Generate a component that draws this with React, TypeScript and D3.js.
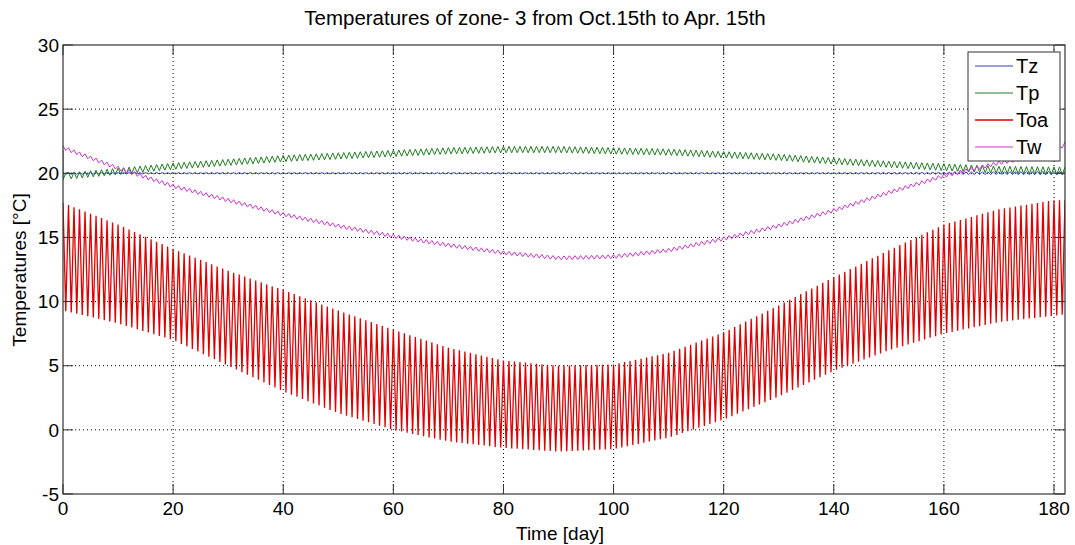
import React from "react";
import * as d3 from "d3";

// envelope readings (daily max / daily min) taken every 10 days off the plot
const sampleDays = [0, 10, 20, 30, 40, 50, 60, 70, 80, 90, 100, 110, 120, 130, 140, 150, 160, 170, 180, 182];

const tzHigh = [20.05, 20.05, 20.05, 20.05, 20.05, 20.05, 20.05, 20.05, 20.05, 20.05, 20.05, 20.05, 20.05, 20.05, 20.05, 20.06, 20.08, 20.12, 20.15, 20.15];
const tzLow = [19.92, 19.95, 19.95, 19.95, 19.95, 19.95, 19.95, 19.95, 19.95, 19.95, 19.95, 19.95, 19.95, 19.95, 19.95, 19.94, 19.92, 19.9, 19.88, 19.88];

const tpHigh = [20.0, 20.4, 20.8, 21.1, 21.4, 21.6, 21.8, 22.0, 22.1, 22.1, 22.0, 21.9, 21.7, 21.5, 21.2, 20.95, 20.75, 20.55, 20.5, 20.5];
const tpLow = [19.5, 19.9, 20.3, 20.6, 20.9, 21.1, 21.3, 21.5, 21.6, 21.6, 21.5, 21.4, 21.2, 21.0, 20.7, 20.45, 20.2, 20.0, 19.9, 19.9];
const tpStart = 21.8;

const toaHigh = [17.7, 16.0, 14.1, 12.4, 10.9, 9.3, 7.8, 6.4, 5.4, 5.0, 5.1, 6.0, 7.6, 9.7, 11.9, 14.0, 16.0, 17.2, 17.9, 17.9];
const toaLow = [9.3, 8.3, 7.0, 5.0, 3.0, 1.3, 0.0, -0.9, -1.4, -1.7, -1.5, -0.6, 0.8, 2.6, 4.6, 6.2, 7.5, 8.4, 8.9, 9.0];

const twHigh = [22.15, 20.55, 19.15, 18.05, 16.95, 16.05, 15.25, 14.55, 13.95, 13.55, 13.65, 14.15, 15.05, 16.05, 17.25, 18.65, 19.95, 20.95, 21.75, 22.45];
const twLow = [21.85, 20.25, 18.85, 17.75, 16.65, 15.75, 14.95, 14.25, 13.65, 13.25, 13.35, 13.85, 14.75, 15.75, 16.95, 18.35, 19.65, 20.65, 21.45, 22.15];

const xTicks = [0, 20, 40, 60, 80, 100, 120, 140, 160, 180];
const yTicks = [-5, 0, 5, 10, 15, 20, 25, 30];

const seriesNames = ["Tz", "Tp", "Toa", "Tw"];
const seriesColors = ["#3a3acc", "#1f7f1f", "#e00000", "#cc33cc"];

const W = 1075, H = 545;
const m = { left: 63, top: 45, right: 1065, bottom: 494 };
const font = "Arial, 'Liberation Sans', sans-serif";

const x = d3.scaleLinear().domain([0, 182]).range([m.left, m.right]);
const y = d3.scaleLinear().domain([-5, 30]).range([m.bottom, m.top]);

// daily zigzag between the read daily max and min
const zigzag = (hi: number[], lo: number[], first?: number) => {
  const hiS = d3.scaleLinear().domain(sampleDays).range(hi);
  const loS = d3.scaleLinear().domain(sampleDays).range(lo);
  const pts: [number, number][] = [];
  if (first !== undefined) pts.push([0, first]);
  for (let d = 0; d < 182; d++) {
    pts.push([d, first !== undefined && d === 0 ? loS(0) : hiS(d)]);
    pts.push([d + 0.5, first !== undefined && d === 0 ? hiS(0.5) : loS(d + 0.5)]);
  }
  pts.push([182, hiS(182)]);
  return pts;
};

const line = d3.line<[number, number]>().x(d => x(d[0])).y(d => y(d[1]));

export default function App() {
  const data = [
    zigzag(tzHigh, tzLow),
    zigzag(tpHigh, tpLow, tpStart),
    zigzag(toaHigh, toaLow),
    zigzag(twHigh, twLow),
  ];
  const widths = [1, 1, 1.3, 1];
  const tick = 10;
  const axisColor = "#333";

  return (
    <svg width={W} height={H} style={{ position: "absolute", left: 0, top: 0, background: "#fff" }}>
      <rect x={0} y={0} width={W} height={H} fill="#fff" />
      <text x={535} y={25} textAnchor="middle" fontFamily={font} fontSize={20.5}>
        Temperatures of zone- 3 from Oct.15th to Apr. 15th
      </text>

      {/* grid */}
      <g stroke="#000" strokeWidth={1} strokeDasharray="1,3">
        {xTicks.slice(1).map(t => (
          <line key={"gx" + t} x1={x(t)} x2={x(t)} y1={m.top} y2={m.bottom} />
        ))}
        {yTicks.slice(1, -1).map(t => (
          <line key={"gy" + t} x1={m.left} x2={m.right} y1={y(t)} y2={y(t)} />
        ))}
      </g>

      <defs>
        <clipPath id="plotClip">
          <rect x={m.left} y={m.top} width={m.right - m.left} height={m.bottom - m.top} />
        </clipPath>
      </defs>
      <g clipPath="url(#plotClip)" fill="none">
        {data.map((d, i) => (
          <path key={seriesNames[i]} d={line(d) || ""} stroke={seriesColors[i]} strokeWidth={widths[i]} />
        ))}
      </g>

      {/* axes box and ticks */}
      <rect x={m.left} y={m.top} width={m.right - m.left} height={m.bottom - m.top} fill="none" stroke={axisColor} strokeWidth={1.2} />
      <g stroke={axisColor} strokeWidth={1}>
        {xTicks.map(t => (
          <g key={"tx" + t}>
            <line x1={x(t)} x2={x(t)} y1={m.bottom} y2={m.bottom - tick} />
            <line x1={x(t)} x2={x(t)} y1={m.top} y2={m.top + tick} />
          </g>
        ))}
        {yTicks.map(t => (
          <g key={"ty" + t}>
            <line x1={m.left} x2={m.left + tick} y1={y(t)} y2={y(t)} />
            <line x1={m.right} x2={m.right - tick} y1={y(t)} y2={y(t)} />
          </g>
        ))}
      </g>
      <g fontFamily={font} fontSize={19} fill="#000">
        {xTicks.map(t => (
          <text key={"lx" + t} x={x(t)} y={515} textAnchor="middle">{t}</text>
        ))}
        {yTicks.map(t => (
          <text key={"ly" + t} x={59} y={y(t)} dy="0.35em" textAnchor="end">{t}</text>
        ))}
      </g>
      <text x={560} y={540} textAnchor="middle" fontFamily={font} fontSize={19}>Time [day]</text>
      <text transform={`translate(26,${270}) rotate(-90)`} textAnchor="middle" fontFamily={font} fontSize={19}>
        Temperatures [°C]
      </text>

      {/* legend */}
      <g>
        <rect x={968} y={52} width={92} height={109} fill="#fff" stroke={axisColor} strokeWidth={1} />
        {seriesNames.map((n, i) => (
          <g key={"lg" + n}>
            <line x1={975} x2={1013} y1={66 + i * 27} y2={66 + i * 27} stroke={seriesColors[i]} strokeWidth={i === 2 ? 1.5 : 1} />
            <text x={1016} y={66 + i * 27} dy="0.35em" fontFamily={font} fontSize={20}>{n}</text>
          </g>
        ))}
      </g>
    </svg>
  );
}
